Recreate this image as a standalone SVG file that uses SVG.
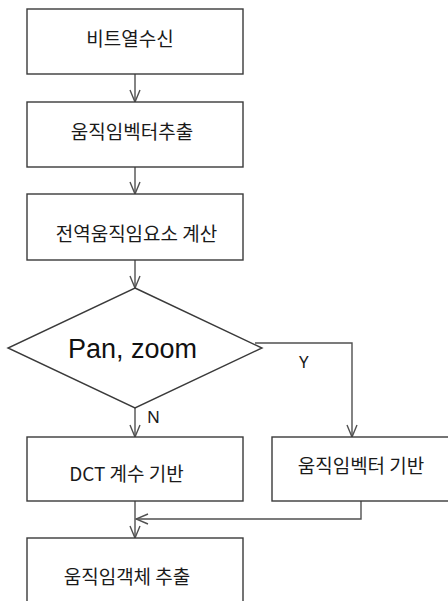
<svg xmlns="http://www.w3.org/2000/svg" width="448" height="601" viewBox="0 0 448 601">
<style>
.box{fill:#fff;stroke:#3a3a3a;stroke-width:1.4}
.t{font-family:"Noto Sans CJK KR","Liberation Sans",sans-serif;font-size:19px;fill:#1a1a1a;text-anchor:middle}
.lbl{font-family:"Noto Sans","Liberation Sans",sans-serif;font-size:17px;fill:#1a1a1a}
.c{fill:none;stroke:#505050;stroke-width:1.4}
</style>
<defs>
<marker id="ah" viewBox="-1 -7 14 14" refX="12" refY="0" markerWidth="14" markerHeight="14" markerUnits="userSpaceOnUse" orient="auto">
<path d="M0,-5 L12,0 L0,5" fill="none" stroke="#505050" stroke-width="1.4"/>
</marker>
</defs>
<rect width="448" height="601" fill="#fff"/>
<g id="connectors">
<line class="c" x1="135" y1="74" x2="135" y2="102" marker-end="url(#ah)"/>
<line class="c" x1="135" y1="167" x2="135" y2="194" marker-end="url(#ah)"/>
<line class="c" x1="135" y1="260" x2="135" y2="288" marker-end="url(#ah)"/>
<line class="c" x1="135" y1="408" x2="135" y2="437" marker-end="url(#ah)"/>
<polyline class="c" points="255,343 352,343 352,437" marker-end="url(#ah)"/>
<polyline class="c" points="361,501 361,519 136,519" marker-end="url(#ah)"/>
<line class="c" x1="135" y1="501" x2="135" y2="538" marker-end="url(#ah)"/>
<text class="lbl" x="299" y="368">Y</text>
<text class="lbl" x="147" y="423">N</text>
</g>
<g id="n1"><rect class="box" x="27" y="9" width="216" height="65"/><text class="t" x="130" y="46">비트열수신</text></g>
<g id="n2"><rect class="box" x="27" y="102" width="216" height="65"/><text class="t" x="132" y="139">움직임벡터추출</text></g>
<g id="n3"><rect class="box" x="27" y="194" width="216" height="66"/><text class="t" x="136.5" y="241">전역움직임요소 계산</text></g>
<g id="n4"><polygon class="box" points="135,288 262,348 135,408 8,348"/><text x="132.5" y="358" style="font-family:'Liberation Sans',sans-serif;font-size:27px;fill:#111;text-anchor:middle">Pan, zoom</text></g>
<g id="n5"><rect class="box" x="27" y="437" width="216" height="64"/><text class="t" x="126.5" y="481">DCT 계수 기반</text></g>
<g id="n6"><rect class="box" x="272" y="437" width="200" height="64"/><text class="t" x="361" y="473">움직임벡터 기반</text></g>
<g id="n7"><rect class="box" x="27" y="538" width="216" height="80"/><text class="t" x="127" y="584">움직임객체 추출</text></g>
</svg>
